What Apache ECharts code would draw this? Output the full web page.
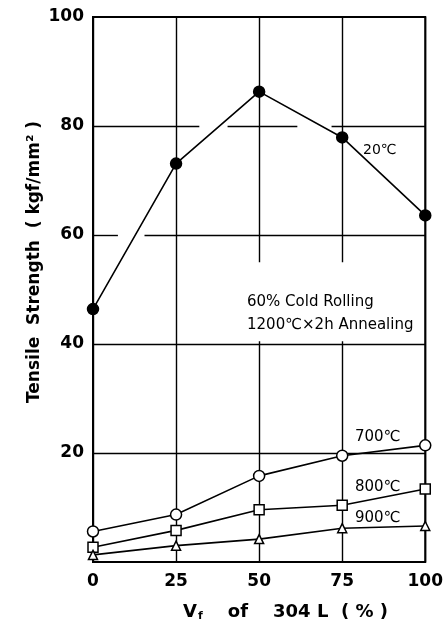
<!DOCTYPE html>
<html>
<head>
<meta charset="utf-8">
<script src="https://cdn.jsdelivr.net/npm/echarts@6/dist/echarts.min.js"></script>
<style>
  html, body { margin: 0; padding: 0; background: #fff; }
  #chart { width: 446px; height: 627px; }
</style>
</head>
<body>
<div id="chart"></div>
<script>
// Volume fraction of 304L (%)
const vf = [0, 25, 50, 75, 100];
// Tensile strength (kgf/mm^2) by test temperature
const ts20 = [46.4, 73.1, 86.3, 77.9, 63.6];
const ts700 = [5.6, 8.7, 15.8, 19.5, 21.4];
const ts800 = [2.7, 5.8, 9.6, 10.4, 13.4];
const ts900 = [1.3, 3.0, 4.2, 6.2, 6.6];
// Axis ticks
const xTicks = [0, 25, 50, 75, 100];
const yTicks = [0, 20, 40, 60, 80, 100];
// Curve names
const curveNames = ['20℃', '700℃', '800℃', '900℃'];

// Horizontal rules, broken where the curve crosses them
const hRules = [
  { y: 20, spans: [[0, 100]] },
  { y: 40, spans: [[0, 100]] },
  { y: 60, spans: [[0, 7.5], [15.5, 100]] },
  { y: 80, spans: [[0, 32], [40.5, 61.5], [71.8, 100]] }
];

const FONT = 'DejaVu Sans';
const pairs = ys => vf.map((x, i) => [x, ys[i]]);

const ruleData = [];
hRules.forEach(r => r.spans.forEach(s => {
  ruleData.push([{ coord: [s[0], r.y] }, { coord: [s[1], r.y] }]);
}));

function curve(name, ys, symbol, size, filled) {
  return {
    name: name,
    type: 'line',
    data: pairs(ys),
    symbol: symbol,
    symbolSize: size,
    showAllSymbol: true,
    lineStyle: { color: '#000', width: 1.6 },
    itemStyle: {
      color: filled ? '#000' : '#fff',
      borderColor: '#000',
      borderWidth: 1.5
    },
    z: 5,
    animation: false
  };
}

const chart = echarts.init(document.getElementById('chart'), null, { renderer: 'canvas' });

chart.setOption({
  backgroundColor: '#fff',
  animation: false,
  grid: {
    left: 93, right: 20, top: 17, bottom: 65,
    show: true, borderColor: '#000', borderWidth: 2, backgroundColor: 'transparent'
  },
  xAxis: {
    type: 'value',
    min: xTicks[0], max: xTicks[xTicks.length - 1], interval: 25,
    axisLine: { show: false },
    axisTick: { show: false },
    splitLine: { show: true, lineStyle: { color: '#000', width: 1.4 } },
    axisLabel: {
      margin: 11,
      color: '#000',
      fontFamily: FONT,
      fontWeight: 'bold',
      fontSize: 17
    }
  },
  yAxis: {
    type: 'value',
    min: yTicks[0], max: yTicks[yTicks.length - 1], interval: 20,
    axisLine: { show: false },
    axisTick: { show: false },
    splitLine: { show: false },
    axisLabel: {
      margin: 9,
      color: '#000',
      fontFamily: FONT,
      fontWeight: 'bold',
      fontSize: 17,
      formatter: v => (v === 0 ? '' : String(v))
    }
  },
  series: [
    {
      name: 'rules',
      type: 'line',
      data: [],
      silent: true,
      z: 2,
      markLine: {
        silent: true,
        symbol: 'none',
        label: { show: false },
        lineStyle: { color: '#000', width: 1.4, type: 'solid' },
        data: ruleData
      },
      markArea: {
        silent: true,
        itemStyle: { color: '#fff', opacity: 1 },
        label: { show: false },
        data: [[{ coord: [26, 40.5] }, { coord: [99.5, 55] }]]
      }
    },
    curve(curveNames[0], ts20, 'circle', 11, true),
    curve(curveNames[1], ts700, 'circle', 11, false),
    curve(curveNames[2], ts800, 'rect', 10, false),
    curve(curveNames[3], ts900, 'triangle', 9, false)
  ],
  graphic: [
    {
      type: 'text', z: 10, x: 35, y: 262, rotation: Math.PI / 2,
      style: {
        text: 'Tensile  Strength  ( kgf/mm² )',
        font: 'bold 17px "DejaVu Sans"', fill: '#000',
        textAlign: 'center', textVerticalAlign: 'middle'
      }
    },
    {
      type: 'text', z: 10, x: 183, y: 612,
      style: {
        text: '{v|V}{s|f}{t|    of    304 L  ( % )}',
        rich: {
          v: { font: 'bold 18px "DejaVu Sans"', fill: '#000' },
          s: { font: 'bold 11px "DejaVu Sans"', fill: '#000', padding: [9, 0, 0, 1] },
          t: { font: 'bold 18px "DejaVu Sans"', fill: '#000' }
        },
        textAlign: 'left', textVerticalAlign: 'middle'
      }
    },
    {
      type: 'text', z: 10, x: 247, y: 314,
      style: {
        text: '60% Cold Rolling\n1200℃×2h Annealing',
        font: '15px "DejaVu Sans"', fill: '#000', lineHeight: 23,
        textAlign: 'left', textVerticalAlign: 'middle'
      }
    },
    {
      type: 'text', z: 10, x: 363, y: 150,
      style: { text: curveNames[0], font: '14px "DejaVu Sans"', fill: '#000', textVerticalAlign: 'middle' }
    },
    {
      type: 'text', z: 10, x: 355, y: 437,
      style: { text: curveNames[1], font: '15px "DejaVu Sans"', fill: '#000', textVerticalAlign: 'middle' }
    },
    {
      type: 'text', z: 10, x: 355, y: 487,
      style: { text: curveNames[2], font: '15px "DejaVu Sans"', fill: '#000', textVerticalAlign: 'middle' }
    },
    {
      type: 'text', z: 10, x: 355, y: 518,
      style: { text: curveNames[3], font: '15px "DejaVu Sans"', fill: '#000', textVerticalAlign: 'middle' }
    }
  ]
});
</script>
</body>
</html>
